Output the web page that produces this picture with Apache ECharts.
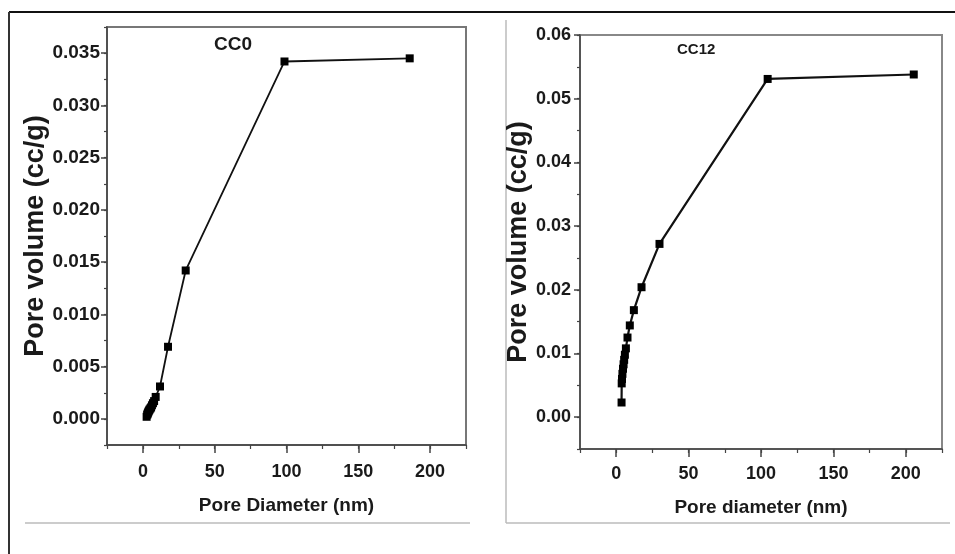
<!DOCTYPE html>
<html>
<head>
<meta charset="utf-8">
<script src="https://cdn.jsdelivr.net/npm/echarts@6/dist/echarts.min.js"></script>
<style>
  html, body { margin: 0; padding: 0; background: #fff; }
  #poreChart { width: 955px; height: 554px; }
</style>
</head>
<body>
<div id="poreChart"></div>
<script>
// CC0 sample (left panel)
var cc0Diameter = [2.6, 3.0, 3.3, 3.6, 3.9, 4.3, 4.7, 5.2, 5.7, 6.3, 7.0, 7.8, 8.9, 11.9, 17.5, 29.8, 98.6, 185.8];
var cc0Volume = [0.0002, 0.0004, 0.0005, 0.0006, 0.0007, 0.0008, 0.0009, 0.0010, 0.0011, 0.0013, 0.0015, 0.0017, 0.0021, 0.0031, 0.0069, 0.0142, 0.0342, 0.0345];
// CC12 sample (right panel)
var cc12Diameter = [3.7, 3.8, 4.0, 4.3, 4.7, 5.1, 5.5, 6.0, 6.7, 7.8, 9.4, 12.2, 17.5, 29.9, 104.6, 205.5];
var cc12Volume = [0.0023, 0.0053, 0.0060, 0.0068, 0.0076, 0.0083, 0.0090, 0.0098, 0.0108, 0.0125, 0.0144, 0.0168, 0.0204, 0.0272, 0.0531, 0.0538];

var xTicks = [0, 50, 100, 150, 200];
var cc0Ticks = [0, 0.005, 0.010, 0.015, 0.020, 0.025, 0.030, 0.035];
var cc12Ticks = [0, 0.01, 0.02, 0.03, 0.04, 0.05, 0.06];

var font = '"Liberation Sans", Arial, sans-serif';
var ink = '#1a1a1a';

var pairs = function (xs, ys) {
    var out = [];
    for (var i = 0; i < xs.length; i++) {
        out.push([xs[i], ys[i]]);
    }
    return out;
};

// main axis: labels and long ticks
var mainX = function (grid, name, nameGap, margin) {
    return {
        type: 'value', gridIndex: grid, position: 'bottom',
        min: -25, max: 225, interval: 25,
        name: name, nameLocation: 'middle', nameGap: nameGap,
        nameTextStyle: { fontFamily: font, fontSize: 19, fontWeight: 'bold', color: ink },
        axisLine: { show: true, onZero: false, lineStyle: { color: '#444', width: 1.5 } },
        axisTick: { show: true, length: 8, customValues: xTicks, lineStyle: { color: '#444', width: 1.5 } },
        axisLabel: { customValues: xTicks, margin: margin, fontFamily: font, fontSize: 18, fontWeight: 'bold', color: ink },
        splitLine: { show: false }
    };
};
// overlay axis: short ticks every 25
var minorX = function (grid) {
    return {
        type: 'value', gridIndex: grid, position: 'bottom',
        min: -25, max: 225, interval: 25,
        axisLine: { show: false, onZero: false },
        axisTick: { show: true, length: 4, lineStyle: { color: '#444', width: 1.2 } },
        axisLabel: { show: false },
        splitLine: { show: false }
    };
};
var mainY = function (grid, min, max, step, ticks, digits, nameGap, margin, fontSize) {
    return {
        type: 'value', gridIndex: grid, position: 'left',
        min: min, max: max, interval: step,
        name: 'Pore volume (cc/g)', nameLocation: 'middle', nameGap: nameGap,
        nameTextStyle: { fontFamily: font, fontSize: 27, fontWeight: 'bold', color: ink },
        axisLine: { show: true, onZero: false, lineStyle: { color: '#444', width: 1.5 } },
        axisTick: { show: true, length: 6, customValues: ticks, lineStyle: { color: '#444', width: 1.5 } },
        axisLabel: {
            customValues: ticks, margin: margin,
            fontFamily: font, fontSize: fontSize, fontWeight: 'bold', color: ink,
            formatter: function (v) { return v.toFixed(digits); }
        },
        splitLine: { show: false }
    };
};
var minorY = function (grid, min, max, step) {
    return {
        type: 'value', gridIndex: grid, position: 'left',
        min: min, max: max, interval: step,
        axisLine: { show: false, onZero: false },
        axisTick: { show: true, length: 3, lineStyle: { color: '#444', width: 1.2 } },
        axisLabel: { show: false },
        splitLine: { show: false }
    };
};

var lineSeries = function (idx, data, width) {
    return {
        type: 'line', xAxisIndex: idx * 2, yAxisIndex: idx * 2,
        data: data,
        symbol: 'rect', symbolSize: 8,
        itemStyle: { color: '#000' },
        lineStyle: { color: '#111', width: width },
        silent: true, animation: false
    };
};

var myChart = echarts.init(document.getElementById('poreChart'));
var option = {
    backgroundColor: '#fff',
    animation: false,
    title: [
        { text: 'CC0', left: 214, top: 35, padding: 0,
          textStyle: { fontFamily: font, fontSize: 19, fontWeight: 'bold', color: ink } },
        { text: 'CC12', left: 677, top: 42, padding: 0,
          textStyle: { fontFamily: font, fontSize: 15, fontWeight: 'bold', color: ink } }
    ],
    grid: [
        { left: 107, top: 27, width: 359, height: 418, show: true, borderColor: '#777', borderWidth: 2,
          backgroundColor: 'transparent', outerBoundsMode: 'none' },
        { left: 580, top: 35, width: 362, height: 414, show: true, borderColor: '#888', borderWidth: 2,
          backgroundColor: 'transparent', outerBoundsMode: 'none' }
    ],
    xAxis: [
        mainX(0, 'Pore Diameter (nm)', 51, 18), minorX(0),
        mainX(1, 'Pore diameter (nm)', 49, 16), minorX(1)
    ],
    yAxis: [
        mainY(0, -0.0025, 0.0375, 0.0025, cc0Ticks, 3, 56, 7, 19), minorY(0, -0.0025, 0.0375, 0.0025),
        mainY(1, -0.005, 0.06, 0.005, cc12Ticks, 2, 47, 9, 18), minorY(1, -0.005, 0.06, 0.005)
    ],
    series: [
        lineSeries(0, pairs(cc0Diameter, cc0Volume), 1.8),
        lineSeries(1, pairs(cc12Diameter, cc12Volume), 2.2)
    ],
    graphic: [
        { type: 'line', shape: { x1: 9, y1: 12, x2: 955, y2: 12 }, style: { stroke: '#111', lineWidth: 2 } },
        { type: 'line', shape: { x1: 9, y1: 12, x2: 9, y2: 554 }, style: { stroke: '#333', lineWidth: 2 } },
        { type: 'line', shape: { x1: 25, y1: 523, x2: 470, y2: 523 }, style: { stroke: '#bbb', lineWidth: 1.5 } },
        { type: 'line', shape: { x1: 506, y1: 20, x2: 506, y2: 523 }, style: { stroke: '#bbb', lineWidth: 1.5 } },
        { type: 'line', shape: { x1: 506, y1: 523, x2: 950, y2: 523 }, style: { stroke: '#bbb', lineWidth: 1.5 } }
    ]
};
myChart.setOption(option);
window.onresize = myChart.resize;
</script>
</body>
</html>
